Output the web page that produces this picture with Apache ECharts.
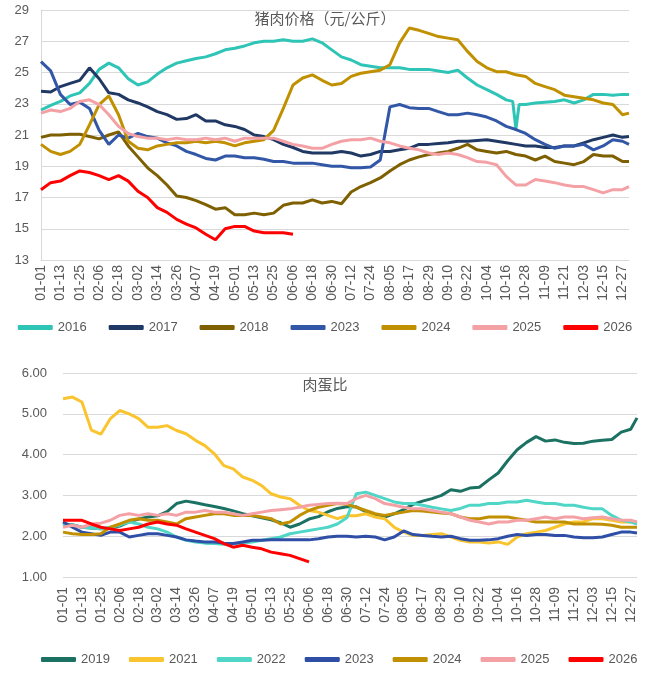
<!DOCTYPE html>
<html><head><meta charset="utf-8">
<script src="https://cdn.jsdelivr.net/npm/echarts@6/dist/echarts.min.js"></script>
<style>html,body{margin:0;padding:0;background:#fff}#c{width:650px;height:679px}</style>
</head><body><div id="c"></div>
<script>
// tick labels shown on the x axes (every 12th day)
const tickLabels = ['01-01','01-13','01-25','02-06','02-18','03-02','03-14','03-26','04-07','04-19','05-01','05-13','05-25','06-06','06-18','06-30','07-12','07-24','08-05','08-17','08-29','09-10','09-22','10-04','10-16','10-28','11-09','11-21','12-03','12-15','12-27'];
// readings taken every 6th day of the year (day 0,6,...,360) and day 364
const sampleDays = [];
for (let d = 0; d <= 360; d += 6) sampleDays.push(d);
sampleDays.push(364);

// ---- 猪肉价格（元/公斤）
const porkNames = ['2016','2017','2018','2023','2024','2025','2026'];
const pork2016 = [22.6,22.9,23.15,23.5,23.7,24.3,25.2,25.6,25.3,24.6, 24.2,24.4,24.9,25.3,25.6,25.75,25.9,26.0,26.2,26.45, 26.55,26.7,26.9,27.0,27.0,27.1,27.0,27.0,27.15,26.9, 26.45,26.0,25.8,25.5,25.4,25.3,25.3,25.3,25.2,25.2, 25.2,25.1,25.0,25.15,24.65,24.2,23.9,23.6,23.25,21.4, 22.95,23.05,23.1,23.15,23.25,23.05,23.25,23.6,23.6,23.55, 23.6,23.6];
const pork2016Extra = [[292,23.15],[296,22.95]];
const pork2017 = [23.8,23.75,24.1,24.3,24.5,25.3,24.6,23.7,23.6,23.25, 23.05,22.8,22.5,22.3,22.0,22.05,22.3,21.9,21.9,21.65, 21.55,21.35,21.0,20.9,20.7,20.4,20.2,19.95,19.85,19.85, 19.85,19.95,19.85,19.65,19.75,19.95,19.95,20.05,20.15,20.4, 20.4,20.45,20.5,20.6,20.6,20.65,20.7,20.6,20.5,20.4, 20.3,20.3,20.2,20.2,20.3,20.3,20.5,20.7,20.85,21.0, 20.85,20.9];
const pork2018 = [20.85,21.0,21.0,21.05,21.05,20.9,20.75,21.0,21.2,20.3, 19.6,18.9,18.4,17.8,17.1,17.0,16.8,16.55,16.25,16.35, 15.9,15.9,16.0,15.9,16.0,16.5,16.65,16.65,16.85,16.65, 16.75,16.6,17.35,17.7,17.95,18.25,18.7,19.1,19.4,19.6, 19.75,19.85,19.95,20.15,20.4,20.05,19.95,19.85,19.95,19.75, 19.65,19.4,19.65,19.3,19.2,19.1,19.3,19.75,19.65,19.65, 19.3,19.3];
const pork2023 = [25.7,25.1,23.6,22.95,23.1,22.7,21.3,20.4,21.0,20.8, 21.1,20.9,20.8,20.5,20.3,19.95,19.75,19.5,19.4,19.65, 19.65,19.55,19.55,19.45,19.3,19.3,19.2,19.2,19.2,19.1, 19.0,19.0,18.9,18.9,18.95,19.4,22.8,22.95,22.75,22.7, 22.7,22.5,22.3,22.3,22.4,22.3,22.15,21.9,21.55,21.35, 21.1,20.7,20.4,20.15,20.3,20.3,20.4,20.05,20.3,20.7, 20.6,20.4];
const pork2024 = [20.4,19.95,19.75,19.95,20.4,21.65,22.95,23.5,22.3,20.6, 20.15,20.05,20.3,20.4,20.5,20.5,20.6,20.5,20.6,20.5, 20.3,20.5,20.6,20.7,21.3,22.7,24.2,24.65,24.85,24.5, 24.2,24.3,24.75,24.95,25.05,25.15,25.5,26.9,27.85,27.7, 27.5,27.3,27.2,27.1,26.35,25.7,25.3,25.05,25.05,24.85, 24.75,24.3,24.1,23.9,23.55,23.45,23.35,23.25,23.05,22.95, 22.3,22.4];
const pork2025 = [22.4,22.6,22.5,22.7,23.15,23.25,22.95,22.3,21.55,21.1, 20.9,20.8,20.8,20.7,20.8,20.7,20.7,20.8,20.7,20.8, 20.6,20.8,20.8,20.8,20.8,20.6,20.4,20.3,20.15,20.15, 20.4,20.6,20.7,20.7,20.8,20.6,20.5,20.3,20.15,20.05, 19.85,19.75,19.85,19.75,19.55,19.3,19.25,19.1,18.35,17.8, 17.8,18.15,18.05,17.95,17.8,17.7,17.7,17.5,17.3,17.5, 17.5,17.7];
const pork2026 = [17.5,17.95,18.05,18.4,18.7,18.6,18.4,18.15,18.4,18.05, 17.4,17.0,16.35,16.05,15.6,15.3,15.05,14.65,14.3,15.0, 15.15,15.15,14.85,14.75,14.75,14.75,14.65];
const porkColors = ['#2EC4B6','#203864','#7F6000','#3157A6','#C09000','#F4A1A6','#FF0000'];

// ---- 肉蛋比
const ratioNames = ['2019','2021','2022','2023','2024','2025','2026'];
const ratio2019 = [2.3,2.28,2.22,2.2,2.18,2.2,2.25,2.35,2.42,2.47, 2.5,2.6,2.8,2.86,2.82,2.77,2.73,2.68,2.62,2.55, 2.5,2.45,2.4,2.33,2.22,2.3,2.42,2.48,2.6,2.68, 2.72,2.72,2.6,2.5,2.47,2.55,2.65,2.78,2.86,2.92, 3.0,3.14,3.1,3.18,3.2,3.38,3.55,3.85,4.12,4.3, 4.44,4.33,4.36,4.3,4.27,4.28,4.33,4.35,4.37,4.55, 4.62,4.9];
const ratio2021 = [5.37,5.41,5.29,4.6,4.5,4.88,5.08,5.0,4.88,4.67, 4.67,4.71,4.59,4.51,4.35,4.22,4.02,3.73,3.65,3.45, 3.37,3.24,3.04,2.96,2.92,2.76,2.63,2.59,2.51,2.43, 2.5,2.5,2.55,2.47,2.43,2.22,2.1,2.02,2.02,2.04, 2.06,1.98,1.9,1.86,1.86,1.83,1.86,1.8,1.98,2.06, 2.1,2.14,2.22,2.3,2.35,2.35,2.43,2.43,2.39,2.35, 2.35,2.35];
const ratio2022 = [2.3,2.27,2.22,2.2,2.18,2.22,2.27,2.35,2.3,2.22, 2.18,2.1,1.98,1.9,1.86,1.83,1.82,1.8,1.82,1.83, 1.86,1.9,1.94,1.98,2.06,2.1,2.14,2.18,2.22,2.3, 2.45,3.04,3.08,3.0,2.92,2.84,2.8,2.8,2.76,2.71, 2.67,2.63,2.68,2.76,2.76,2.8,2.8,2.84,2.84,2.88, 2.84,2.8,2.8,2.76,2.76,2.71,2.67,2.67,2.51,2.39, 2.35,2.3];
const ratio2023 = [2.35,2.22,2.1,2.06,2.02,2.1,2.1,1.98,2.02,2.06, 2.06,2.02,1.98,1.91,1.88,1.86,1.86,1.83,1.82,1.86, 1.9,1.9,1.91,1.91,1.91,1.91,1.91,1.94,1.98,2.0, 2.0,1.98,2.0,1.98,1.91,1.98,2.13,2.04,2.02,2.0, 1.98,2.0,1.94,1.9,1.9,1.91,1.94,2.0,2.04,2.02, 2.04,2.04,2.02,2.02,1.98,1.96,1.96,1.98,2.04,2.1, 2.1,2.08];
const ratio2024 = [2.1,2.06,2.04,2.04,2.06,2.22,2.3,2.39,2.43,2.39, 2.39,2.35,2.3,2.43,2.47,2.51,2.55,2.55,2.51,2.51, 2.51,2.47,2.43,2.3,2.35,2.51,2.63,2.71,2.76,2.8, 2.78,2.71,2.63,2.55,2.51,2.55,2.59,2.63,2.62,2.59, 2.57,2.55,2.47,2.43,2.43,2.47,2.47,2.47,2.43,2.39, 2.35,2.35,2.35,2.35,2.3,2.3,2.3,2.29,2.27,2.22, 2.22,2.22];
const ratio2025 = [2.22,2.27,2.22,2.3,2.32,2.39,2.51,2.55,2.51,2.55, 2.51,2.55,2.51,2.59,2.59,2.63,2.59,2.59,2.55,2.51, 2.55,2.59,2.63,2.65,2.67,2.71,2.76,2.78,2.8,2.81, 2.8,2.92,3.0,2.92,2.8,2.76,2.71,2.67,2.67,2.63, 2.59,2.55,2.47,2.39,2.35,2.3,2.35,2.35,2.39,2.39, 2.43,2.47,2.43,2.47,2.47,2.43,2.45,2.47,2.43,2.39, 2.39,2.35];
const ratio2026 = [2.39,2.39,2.39,2.3,2.22,2.18,2.14,2.18,2.22,2.3, 2.35,2.3,2.27,2.18,2.1,2.02,1.94,1.82,1.73,1.78, 1.73,1.69,1.61,1.57,1.53,1.45,1.37];
const ratioColors = ['#1B7262','#FAC42E','#4FD6C6','#2F4FA6','#C09000','#F4A1A6','#FF0000'];

// full daily category list (non-leap year)
const categories = [];
for (let i = 0; i < 365; i++) {
  const dt = new Date(Date.UTC(2023, 0, 1 + i));
  categories.push(String(dt.getUTCMonth() + 1).padStart(2, '0') + '-' + String(dt.getUTCDate()).padStart(2, '0'));
}

function pts(vals, extra) {
  const out = vals.map((v, i) => [sampleDays[i], v]);
  if (extra) extra.forEach(p => out.push(p));
  out.sort((a, b) => a[0] - b[0]);
  return out;
}

const porkData = [pts(pork2016, pork2016Extra), pts(pork2017), pts(pork2018), pts(pork2023), pts(pork2024), pts(pork2025), pts(pork2026)];
const ratioData = [pts(ratio2019), pts(ratio2021), pts(ratio2022), pts(ratio2023), pts(ratio2024), pts(ratio2025), pts(ratio2026)];

const txt = '#595959';
const font = 'Liberation Sans';
const cjk = 'Noto Sans CJK SC';

function xAxis(gi, margin) {
  return {
    type: 'category', gridIndex: gi, data: categories, boundaryGap: false,
    axisTick: { show: false },
    axisLine: { show: true, lineStyle: { color: '#D9D9D9', width: 1 } },
    axisLabel: {
      rotate: 90, margin: margin, color: txt, fontSize: 14, fontFamily: font,
      interval: (idx, val) => tickLabels.indexOf(val) >= 0
    },
    splitLine: { show: false }
  };
}

const series = [];
porkNames.forEach((n, i) => series.push({
  name: n, type: 'line', xAxisIndex: 0, yAxisIndex: 0, data: porkData[i],
  showSymbol: false, symbol: 'none', lineStyle: { width: 3, color: porkColors[i] },
  itemStyle: { color: porkColors[i] }, animation: false
}));
ratioNames.forEach((n, i) => series.push({
  name: n + ' ', type: 'line', xAxisIndex: 1, yAxisIndex: 1, data: ratioData[i],
  showSymbol: false, symbol: 'none', lineStyle: { width: 3, color: ratioColors[i] },
  itemStyle: { color: ratioColors[i] }, animation: false
}));

const chart = echarts.init(document.getElementById('c'), null, { renderer: 'canvas' });
chart.setOption({
  backgroundColor: '#fff',
  animation: false,
  title: [
    { text: '猪肉价格（元/公斤）', left: 'center', top: 6, textStyle: { color: txt, fontSize: 15, fontWeight: 'normal', fontFamily: cjk } },
    { text: '肉蛋比', left: 'center', top: 372, textStyle: { color: txt, fontSize: 15, fontWeight: 'normal', fontFamily: cjk } }
  ],
  legend: [
    { data: porkNames, top: 316, left: 'center', itemWidth: 35, itemHeight: 5, itemGap: 22, icon: 'roundRect',
      textStyle: { color: txt, fontSize: 13, fontFamily: font } },
    { data: ratioNames.map(n => n + ' '), top: 648, left: 36, width: 614, itemWidth: 35, itemHeight: 5, itemGap: 19, icon: 'roundRect',
      textStyle: { color: txt, fontSize: 13, fontFamily: font }, formatter: n => n.trim() }
  ],
  grid: [
    { left: 41, top: 10, width: 588, height: 250, containLabel: false },
    { left: 63, top: 373, width: 574, height: 204, containLabel: false }
  ],
  xAxis: [xAxis(0, 5), Object.assign(xAxis(1, 10), { axisLine: { show: false } })],
  yAxis: [
    { type: 'value', gridIndex: 0, min: 13, max: 29, interval: 2,
      axisLine: { show: true, lineStyle: { color: '#D9D9D9' } }, axisTick: { show: false },
      axisLabel: { color: txt, fontSize: 13, fontFamily: font, margin: 12 },
      splitLine: { lineStyle: { color: '#D9D9D9', width: 1 } } },
    { type: 'value', gridIndex: 1, min: 1, max: 6, interval: 1,
      axisLine: { show: false }, axisTick: { show: false },
      axisLabel: { color: txt, fontSize: 13, fontFamily: font, margin: 16, formatter: v => v.toFixed(2) },
      splitLine: { lineStyle: { color: '#D9D9D9', width: 1 } } }
  ],
  series: series
});
</script></body></html>
